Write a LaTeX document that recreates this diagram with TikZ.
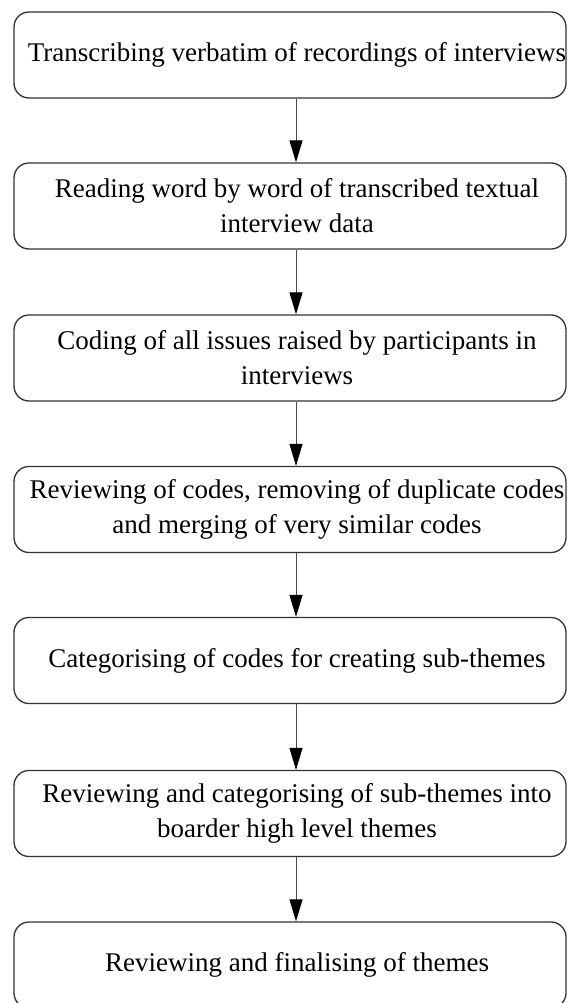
\documentclass[tikz,border=0pt]{standalone}
\usepackage{fontspec}
\setmainfont{Liberation Serif}
\usetikzlibrary{arrows.meta}
\begin{document}
\begin{tikzpicture}[x=1pt,y=-1pt,
  stepbox/.style={draw=black!80, line width=1.3pt, rounded corners=15pt,
    minimum width=552pt, minimum height=86pt, inner sep=0pt},
  steptext/.style={align=center, inner sep=0pt,
    font=\fontsize{27}{35}\selectfont},
  link/.style={draw=black!70, line width=1pt,
    -{Triangle[length=22pt,width=13pt,color=black,fill=black]}}]
\useasboundingbox (0,0) rectangle (568,1003);
\clip (0,0) rectangle (568,1003);

% the seven stages
\node[stepbox] (s1) at (290,55)    {};
\node[stepbox] (s2) at (290,206)   {};
\node[stepbox] (s3) at (290,358)   {};
\node[stepbox] (s4) at (290,509.5) {};
\node[stepbox] (s5) at (290,660.5) {};
\node[stepbox] (s6) at (290,813.5) {};
\node[stepbox] (s7) at (290,965)   {};

% their captions, set a little right of each box's centre
\node[steptext] (t1) at ([xshift=7pt]s1.center) {Transcribing verbatim of recordings of interviews};
\node[steptext] (t2) at ([xshift=7pt]s2.center) {Reading word by word of transcribed textual\\interview data};
\node[steptext] (t3) at ([xshift=7pt]s3.center) {Coding of all issues raised by participants in\\interviews};
\node[steptext] (t4) at ([xshift=7pt]s4.center) {Reviewing of codes, removing of duplicate codes\\and merging of very similar codes};
\node[steptext] (t5) at ([xshift=7pt]s5.center) {Categorising of codes for creating sub-themes};
\node[steptext] (t6) at ([xshift=7pt]s6.center) {Reviewing and categorising of sub-themes into\\boarder high level themes};
\node[steptext] (t7) at ([xshift=7pt]s7.center) {Reviewing and finalising of themes};

\foreach \a/\b in {s1/s2, s2/s3, s3/s4, s4/s5, s5/s6, s6/s7}
  \draw[link] ([xshift=6pt]\a.south) -- ([xshift=6pt]\b.north);
\end{tikzpicture}
\end{document}
